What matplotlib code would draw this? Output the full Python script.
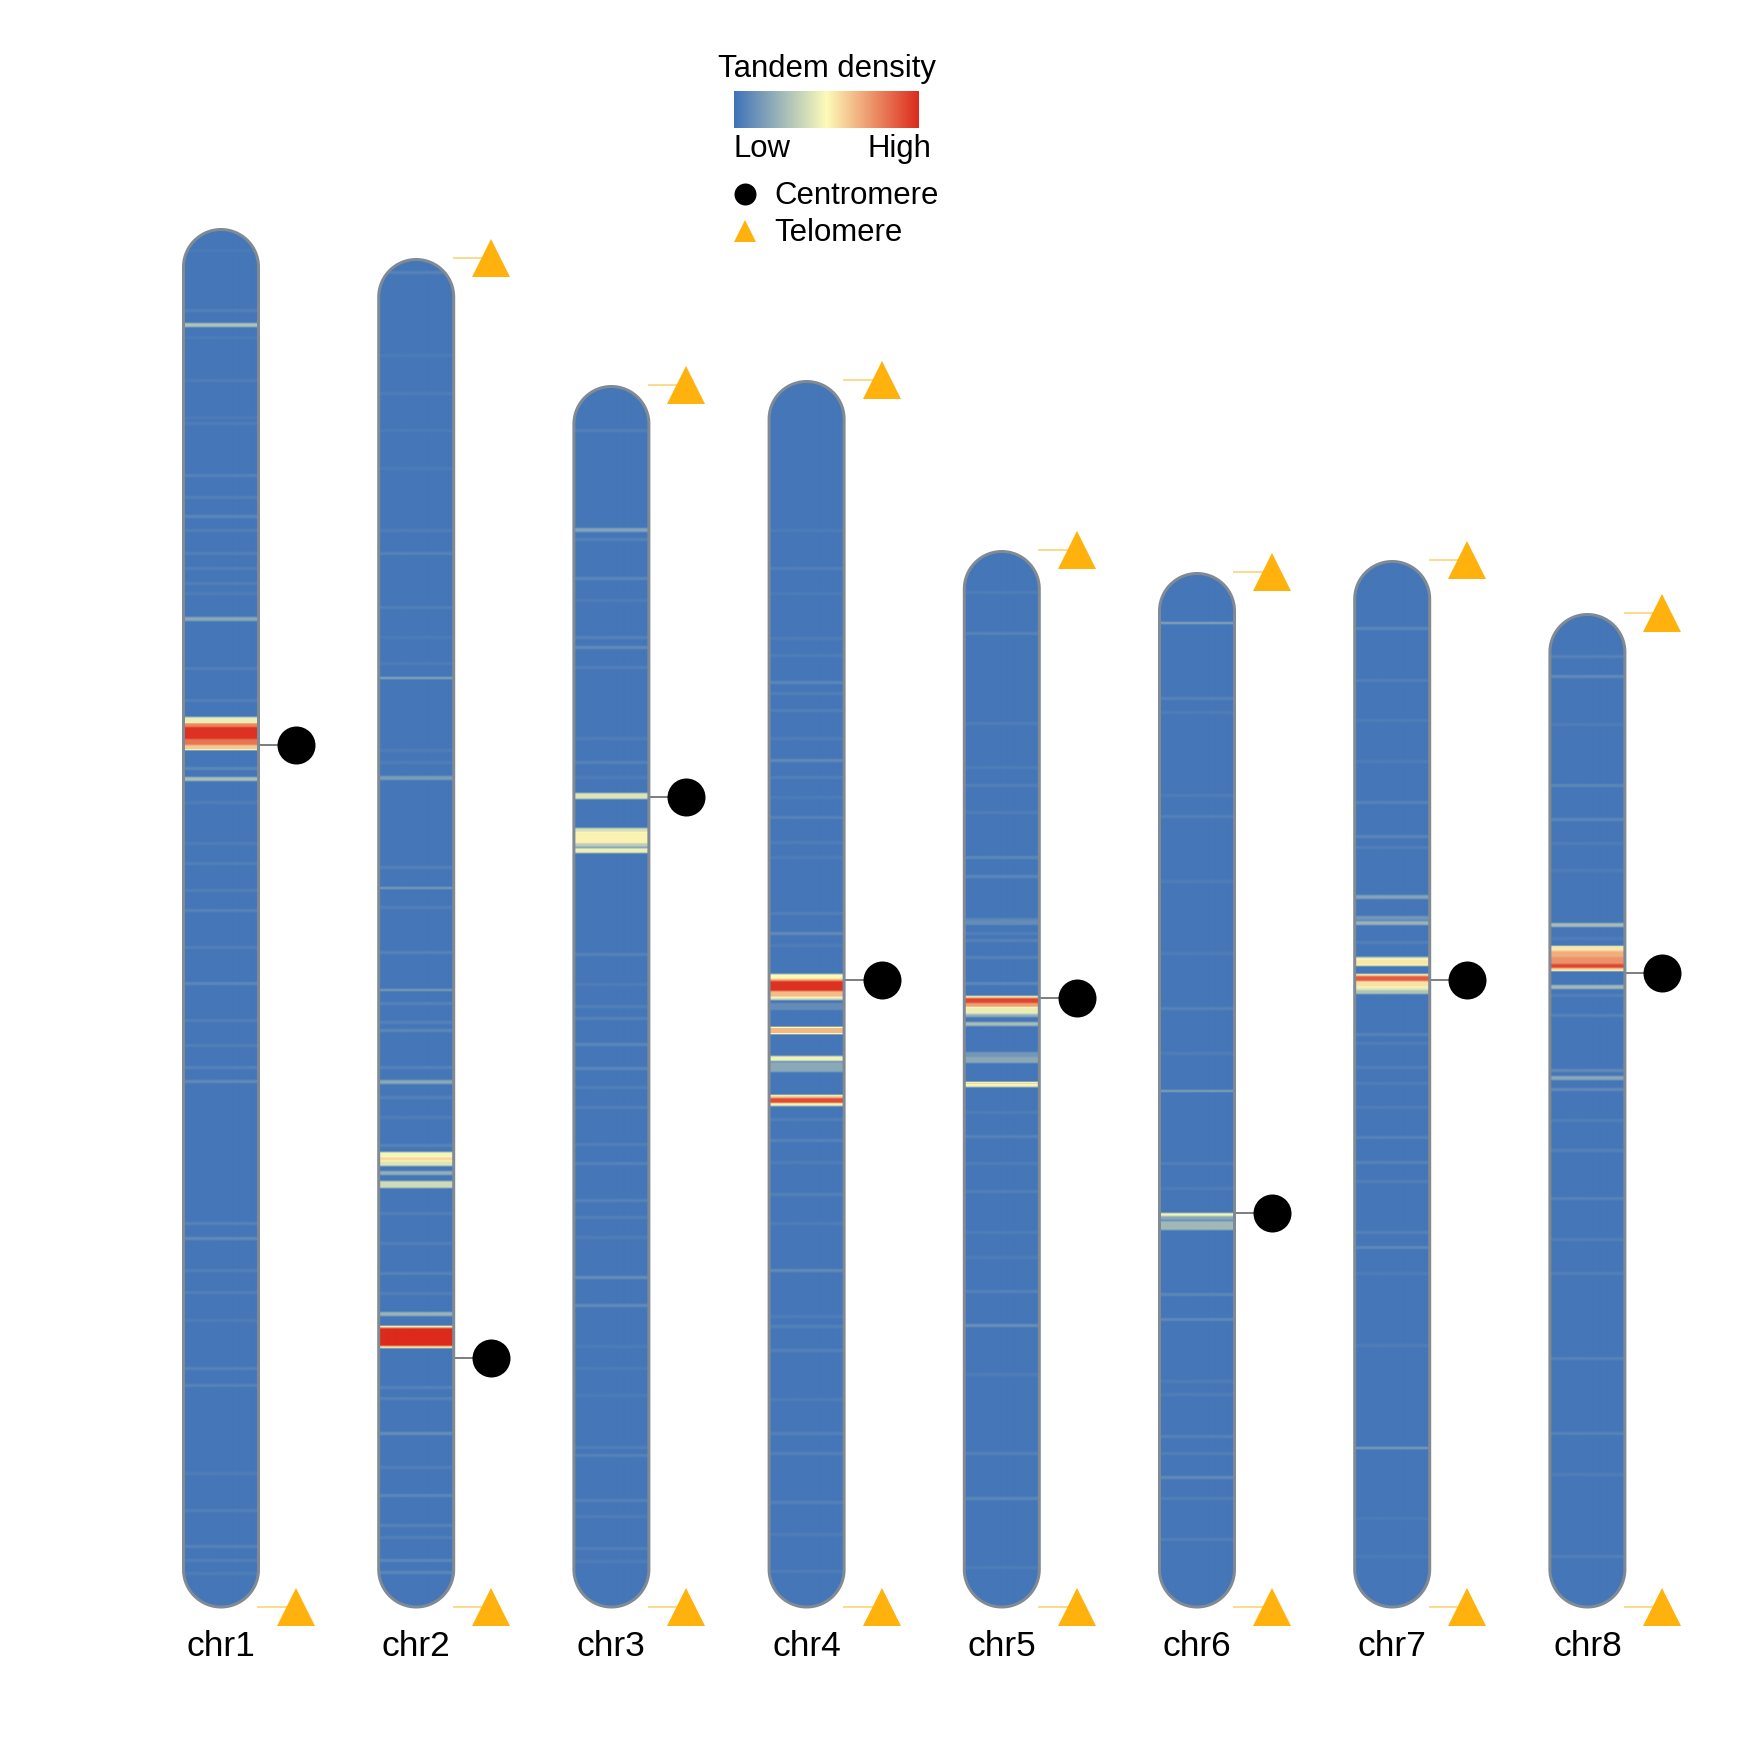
import matplotlib
matplotlib.use("Agg")
import matplotlib.pyplot as plt
import numpy as np
from matplotlib.colors import LinearSegmentedColormap
from matplotlib.patches import Polygon

plt.rcParams["font.family"] = ["Liberation Sans", "DejaVu Sans"]

# chromosome names, lengths and centromere positions (distance from the top end)
chrom_names = ["chr1", "chr2", "chr3", "chr4", "chr5", "chr6", "chr7", "chr8"]
chrom_lengths = [1379, 1349, 1222, 1227, 1057, 1035, 1047, 994]
centromeres = [517, 1100, 412, 600, 448, 641, 420, 360]
top_telomere = [False, True, True, True, True, True, True, True]

# sharp bands: (start, end, density) with density from 0 (low) to 1 (high)
chr1_bands = [(95, 99, 0.30), (389, 393, 0.20), (489, 495, 0.45), (495, 499, 0.78),
              (499, 511, 0.98), (511, 517, 0.82), (517, 522, 0.62), (549, 553, 0.28)]
chr2_bands = [(419, 421, 0.20), (518, 522, 0.16), (629, 631, 0.16), (731, 733, 0.16),
              (822, 826, 0.20), (894, 899, 0.48), (899, 903, 0.58), (903, 908, 0.42),
              (913, 917, 0.22), (923, 930, 0.38), (1054, 1058, 0.24), (1068, 1070, 0.60),
              (1070, 1088, 1.00), (1088, 1090, 0.55)]
chr3_bands = [(143, 147, 0.18), (408, 414, 0.42), (443, 447, 0.40), (447, 458, 0.52),
              (458, 462, 0.33), (463, 468, 0.46)]
chr4_bands = [(594, 599, 0.50), (599, 601, 0.70), (601, 611, 0.98), (611, 617, 0.65),
              (617, 620, 0.42), (623, 630, 0.10), (647, 654, 0.66), (676, 681, 0.47),
              (682, 692, 0.20), (715, 718, 0.60), (718, 723, 0.92), (723, 726, 0.48)]
chr5_bands = [(370, 375, 0.10), (446, 448, 0.55), (448, 453, 0.93), (453, 457, 0.72),
              (457, 464, 0.45), (464, 467, 0.22), (472, 476, 0.27), (502, 507, 0.14),
              (507, 513, 0.20), (532, 534, 0.62), (534, 537, 0.48)]
chr6_bands = [(50, 52, 0.20), (518, 520, 0.18), (641, 644, 0.48), (644, 648, 0.20),
              (649, 658, 0.26)]
chr7_bands = [(335, 339, 0.18), (356, 360, 0.14), (361, 365, 0.24), (397, 399, 0.42),
              (399, 405, 0.55), (405, 406, 0.45), (414, 416, 0.55), (416, 421, 0.88),
              (421, 427, 0.56), (427, 430, 0.44), (430, 434, 0.30), (887, 889, 0.17)]
chr8_bands = [(310, 314, 0.27), (333, 338, 0.55), (338, 344, 0.68), (344, 351, 0.75),
              (351, 355, 0.93), (355, 358, 0.58), (372, 376, 0.26), (463, 467, 0.20)]

# faint stripes: (position, density)
chr1_faint = [(22, 0.05), (82, 0.08), (109, 0.06), (152, 0.07), (189, 0.06), (195, 0.07),
              (247, 0.10), (269, 0.08), (288, 0.12), (302, 0.08), (325, 0.08), (340, 0.08),
              (355, 0.08), (365, 0.07), (440, 0.08), (472, 0.08), (540, 0.12), (574, 0.07),
              (615, 0.07), (635, 0.08), (662, 0.08), (682, 0.10), (719, 0.08), (755, 0.12),
              (792, 0.08), (817, 0.08), (839, 0.10), (853, 0.14), (995, 0.10), (1010, 0.14),
              (1042, 0.08), (1064, 0.08), (1092, 0.07), (1140, 0.10), (1157, 0.10),
              (1245, 0.07), (1282, 0.08), (1318, 0.10), (1332, 0.08), (1345, 0.07)]
chr2_faint = [(14, 0.10), (97, 0.06), (135, 0.07), (172, 0.06), (210, 0.06), (272, 0.07),
              (295, 0.10), (349, 0.08), (379, 0.06), (405, 0.07), (492, 0.07), (504, 0.07),
              (609, 0.09), (649, 0.08), (694, 0.10), (745, 0.10), (764, 0.09), (772, 0.12),
              (809, 0.10), (839, 0.09), (859, 0.07), (887, 0.10), (955, 0.08), (985, 0.08),
              (1015, 0.10), (1035, 0.08), (1129, 0.10), (1140, 0.10), (1175, 0.16),
              (1209, 0.08), (1237, 0.12), (1267, 0.10), (1279, 0.08), (1302, 0.12), (1314, 0.12)]
chr3_faint = [(45, 0.08), (154, 0.09), (193, 0.12), (215, 0.07), (252, 0.10), (262, 0.15),
              (282, 0.08), (353, 0.07), (377, 0.10), (392, 0.07), (569, 0.10), (599, 0.07),
              (621, 0.08), (633, 0.10), (659, 0.12), (683, 0.12), (702, 0.08), (722, 0.08),
              (759, 0.08), (778, 0.10), (815, 0.10), (832, 0.08), (852, 0.07), (892, 0.16),
              (920, 0.15), (961, 0.06), (983, 0.06), (1010, 0.06), (1062, 0.08), (1070, 0.10),
              (1115, 0.09), (1131, 0.07), (1163, 0.08), (1176, 0.07)]
chr4_faint = [(150, 0.06), (188, 0.08), (213, 0.06), (258, 0.07), (275, 0.07), (302, 0.12),
              (313, 0.08), (330, 0.08), (358, 0.07), (380, 0.14), (397, 0.08), (417, 0.06),
              (437, 0.10), (462, 0.07), (477, 0.07), (533, 0.08), (553, 0.14), (565, 0.07),
              (739, 0.08), (760, 0.10), (782, 0.07), (814, 0.09), (843, 0.07), (890, 0.14),
              (936, 0.07), (946, 0.09), (970, 0.09), (1019, 0.07), (1053, 0.09), (1073, 0.09),
              (1122, 0.09), (1154, 0.07), (1191, 0.07)]
chr5_faint = [(42, 0.07), (83, 0.10), (173, 0.07), (217, 0.07), (235, 0.08), (262, 0.07),
              (307, 0.12), (326, 0.12), (369, 0.11), (383, 0.08), (390, 0.10), (407, 0.10),
              (433, 0.12), (562, 0.07), (586, 0.10), (613, 0.07), (641, 0.08), (682, 0.07),
              (707, 0.07), (741, 0.10), (775, 0.17), (824, 0.07), (903, 0.09), (948, 0.12),
              (1017, 0.07)]
chr6_faint = [(126, 0.10), (140, 0.07), (223, 0.07), (244, 0.09), (309, 0.07), (381, 0.07),
              (436, 0.10), (481, 0.07), (591, 0.08), (616, 0.07), (722, 0.12), (747, 0.13),
              (809, 0.07), (822, 0.07), (864, 0.10), (881, 0.08), (905, 0.14), (926, 0.08),
              (967, 0.08)]
chr7_faint = [(68, 0.12), (120, 0.08), (160, 0.07), (201, 0.07), (242, 0.10), (276, 0.11),
              (287, 0.08), (382, 0.08), (474, 0.10), (483, 0.07), (507, 0.08), (523, 0.07),
              (547, 0.07), (577, 0.10), (602, 0.10), (621, 0.08), (672, 0.09), (687, 0.13),
              (713, 0.07), (785, 0.07), (958, 0.06), (996, 0.06)]
chr8_faint = [(43, 0.10), (63, 0.14), (111, 0.07), (172, 0.12), (206, 0.12), (230, 0.07),
              (257, 0.07), (325, 0.07), (382, 0.08), (402, 0.10), (457, 0.14), (476, 0.14),
              (507, 0.08), (537, 0.09), (585, 0.10), (626, 0.08), (660, 0.08), (745, 0.10),
              (820, 0.10), (861, 0.07), (943, 0.08)]

all_bands = [chr1_bands, chr2_bands, chr3_bands, chr4_bands,
             chr5_bands, chr6_bands, chr7_bands, chr8_bands]
all_faint = [chr1_faint, chr2_faint, chr3_faint, chr4_faint,
             chr5_faint, chr6_faint, chr7_faint, chr8_faint]

# legend labels
legend_title = "Tandem density"
scale_labels = ["Low", "High"]
marker_labels = ["Centromere", "Telomere"]

# layout, in output pixels
PX = 72 / 100
FIRST_X = 221
STEP_X = 195.2
BAR_W = 75
MARK_DX = 75
MARK_W = 38
INSET = 1.5
BASE_DENSITY = 0.018
FAINT_SCALE = 0.65
SOFTEN = [0.25, 0.5, 0.25]

cmap = LinearSegmentedColormap.from_list("density", ["#3f72b8", "#fdfbb8", "#dc2a1c"])
GREY = "#7f8a95"
ORANGE = "#ffb20d"

fig = plt.figure(figsize=(17.43, 17.43), dpi=100, facecolor="white")
ax = fig.add_axes([0, 0, 1, 1])


def capsule(cx, length):
    """Return the outline of a chromosome with round ends."""
    r = BAR_W / 2
    theta = np.linspace(0, np.pi, 60)
    top_x = cx + r * np.cos(theta)
    top_y = length - INSET - r + r * np.sin(theta)
    bottom_x = cx - r * np.cos(theta)
    bottom_y = r - r * np.sin(theta)
    return np.column_stack([np.r_[top_x, bottom_x], np.r_[top_y, bottom_y]])


for i, name in enumerate(chrom_names):
    cx = FIRST_X + STEP_X * i
    length = chrom_lengths[i]

    # density strip, one row per unit along the chromosome
    density = np.full(length, BASE_DENSITY)
    for pos, val in all_faint[i]:
        density[pos - 1:pos + 2] = val * FAINT_SCALE
    for start, end, val in all_bands[i]:
        density[start:end] = val
    density = np.convolve(density, SOFTEN, mode="same")

    im = ax.imshow(density[:, None], cmap=cmap, vmin=0, vmax=1, aspect="auto",
                   interpolation="bilinear", origin="upper",
                   extent=[cx - BAR_W / 2, cx + BAR_W / 2, 0, length], zorder=1)
    outline = Polygon(capsule(cx, length), closed=True, facecolor="none",
                      edgecolor=GREY, linewidth=3 * PX, zorder=2)
    ax.add_patch(outline)
    im.set_clip_path(outline)

    edge = cx + BAR_W / 2
    mark_x = cx + MARK_DX

    # centromere
    cen_y = length - centromeres[i]
    ax.plot([edge, mark_x], [cen_y, cen_y], color="#808080", lw=2 * PX, zorder=1)
    ax.plot(mark_x, cen_y, "o", color="black", ms=MARK_W * PX, mew=0, zorder=3)

    # telomeres
    tel_ys = [0, length] if top_telomere[i] else [0]
    for tel_y in tel_ys:
        ax.plot([edge, mark_x], [tel_y, tel_y], color="#fbdc8e", lw=2 * PX, zorder=1)
        ax.plot(mark_x, tel_y, "^", color=ORANGE, ms=MARK_W * PX, mew=0, zorder=3)

    ax.text(cx, -49, name, fontsize=25.5, ha="center", va="baseline", color="black")

# legend
ax.text(827, 1530, legend_title, fontsize=22.4, ha="center", va="baseline")
ax.imshow(np.linspace(0, 1, 256)[None, :], cmap=cmap, aspect="auto",
          extent=[734, 919, 1479, 1516], zorder=1)
ax.text(734, 1450, scale_labels[0], fontsize=22.4, ha="left", va="baseline")
ax.text(931, 1450, scale_labels[1], fontsize=22.4, ha="right", va="baseline")
ax.plot(745, 1413, "o", color="black", ms=22 * PX, mew=0)
ax.plot(745, 1376, "^", color=ORANGE, ms=22 * PX, mew=0)
ax.text(774, 1403, marker_labels[0], fontsize=22.4, ha="left", va="baseline")
ax.text(774, 1366, marker_labels[1], fontsize=22.4, ha="left", va="baseline")

# y counts upward from the lower chromosome ends
ax.set_xlim(0, 1743)
ax.set_ylim(-136, 1607)
ax.axis("off")

fig.savefig("out.png", dpi=100, facecolor="white")
